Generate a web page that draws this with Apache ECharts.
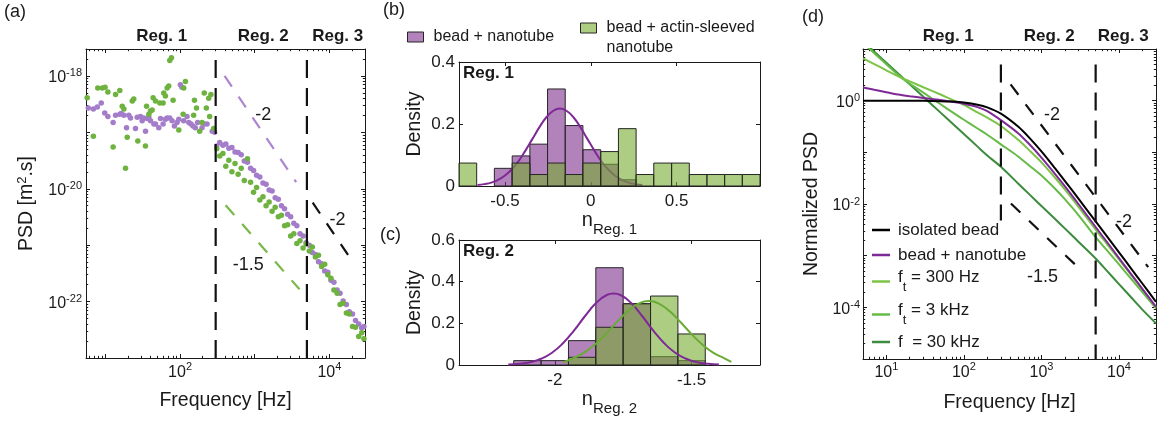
<!DOCTYPE html>
<html>
<head>
<meta charset="utf-8">
<title>PSD of bead + nanotube</title>
<script src="https://cdn.jsdelivr.net/npm/echarts@6.0.0/dist/echarts.min.js"></script>
<style>
html,body{margin:0;padding:0;background:#ffffff;}
#chart{width:1159px;height:422px;}
</style>
</head>
<body>
<div id="chart"></div>
<script>
// ================= DATA =================
// Panel (a): measured PSD [m^2.s] vs frequency [Hz]
const freqNanotubeReg1 = [5.9, 6.9, 7.8, 8.8, 9.8, 10.8, 12.7, 13.7, 15.6, 16.3, 17.7, 19.2, 20.6, 21.7, 25.3, 26.7, 29.5, 31.1, 32.7, 34.5, 36.3, 38.2, 40.2, 44.6, 46.9, 51.9, 54.7, 59.3, 63.7, 67.1, 72.8, 78.2, 84.1, 91.2, 96.1, 101, 106, 112, 124, 131, 140, 149, 160, 172, 197, 211, 230, 270, 290];
const psdNanotubeReg1 = [2.7e-19, 2.6e-19, 2.8e-19, 3.3e-19, 2.2e-19, 1.9e-19, 1.5e-19, 2.0e-19, 2.1e-19, 2.15e-19, 2.0e-19, 1.2e-19, 2.0e-19, 1.8e-19, 1.17e-19, 1.85e-19, 1.9e-19, 1.6e-19, 1.8e-19, 1.05e-19, 1.75e-19, 1.85e-19, 1.6e-19, 1.4e-19, 1.4e-19, 1.2e-19, 1.75e-19, 1.4e-19, 1.7e-19, 1.8e-19, 1.8e-19, 1.6e-19, 1.3e-19, 1.5e-19, 1.7e-19, 7.0e-19, 6.3e-19, 1.6e-19, 1.9e-19, 1.5e-19, 1.4e-19, 1.3e-19, 1.2e-19, 1.5e-19, 1.2e-19, 1.4e-19, 1.4e-19, 1.05e-19, 1.0e-19];
const freqActinReg1 = [5.7, 6.9, 7.9, 9.1, 9.9, 10.8, 12.7, 13.7, 15.6, 16.8, 17.7, 18.6, 19.6, 22.9, 24.0, 27.2, 34.4, 35.6, 38.2, 40.2, 42.3, 43.6, 46.9, 53.6, 59.3, 60.5, 63.7, 67.1, 70.6, 72.8, 76.7, 80.7, 96.2, 110, 112, 118, 152, 156, 166, 183, 197, 211, 225, 242, 249, 259, 282];
const psdActinReg1 = [4.1e-19, 8.5e-20, 6.1e-19, 6.1e-19, 6.3e-19, 5.2e-19, 5.5e-20, 4.7e-19, 5.5e-19, 2.9e-19, 2.6e-19, 2.3e-20, 8.2e-20, 3.6e-19, 3.9e-19, 7.0e-20, 5.7e-20, 2.9e-19, 2.1e-19, 2.4e-19, 2.5e-19, 4.1e-19, 3.6e-19, 3.3e-19, 3.3e-19, 5.0e-19, 4.4e-19, 6.1e-19, 6.6e-19, 1.87e-18, 2.1e-18, 3.7e-19, 1.1e-19, 2.1e-19, 6.1e-19, 8.0e-19, 2.0e-19, 3.7e-19, 2.7e-19, 1.05e-19, 1.5e-19, 5.0e-19, 2.7e-19, 4.0e-19, 1.9e-19, 4.7e-19, 1.17e-19];
const freqReg23 = [310, 340, 375, 410, 450, 495, 545, 600, 660, 725, 800, 880, 965, 1060, 1170, 1290, 1420, 1560, 1710, 1880, 2070, 2280, 2510, 2760, 3030, 3340, 3670, 4040, 4440, 4890, 5380, 5910, 6500, 7150, 7870, 8660, 9520, 10500, 11500, 12700, 13900, 15300, 16900, 18500, 20400, 22400, 24700, 27100, 29000];
const psdNanotubeReg23 = [5.75e-20, 6.6e-20, 5.9e-20, 6.2e-20, 5.2e-20, 5.4e-20, 4.5e-20, 4.4e-20, 4.0e-20, 3.1e-20, 2.95e-20, 2.3e-20, 2.1e-20, 1.74e-20, 1.62e-20, 1.26e-20, 1.2e-20, 9.5e-21, 9.1e-21, 6.9e-21, 6.5e-21, 5.0e-21, 4.4e-21, 3.55e-21, 3.2e-21, 2.45e-21, 2.2e-21, 1.6e-21, 1.45e-21, 1.1e-21, 1.0e-21, 7.4e-22, 6.8e-22, 5.1e-22, 4.7e-22, 3.5e-22, 3.3e-22, 2.4e-22, 2.2e-22, 1.6e-22, 1.4e-22, 1.02e-22, 8.9e-23, 6.6e-23, 6.0e-23, 4.6e-23, 4.0e-23, 3.4e-23, 3.6e-23];
const psdActinReg23 = [5.1e-20, 3.8e-20, 4.2e-20, 2.5e-20, 3.2e-20, 2.0e-20, 2.8e-20, 1.8e-20, 2.3e-20, 1.4e-20, 3.4e-20, 1.3e-20, 8.7e-21, 1.05e-20, 6.3e-21, 7.2e-21, 5.0e-21, 5.8e-21, 4.0e-21, 4.7e-21, 3.2e-21, 3.4e-21, 2.2e-21, 2.3e-21, 1.45e-21, 1.6e-21, 1.07e-21, 1.2e-21, 8.9e-22, 1.05e-21, 7.9e-22, 9.3e-22, 6.2e-22, 6.6e-22, 4.2e-22, 4.6e-22, 3.0e-22, 2.6e-22, 1.6e-22, 1.4e-22, 8.9e-23, 9.3e-23, 6.3e-23, 6.0e-23, 3.6e-23, 3.5e-23, 2.4e-23, 2.8e-23, 2.2e-23];
// region boundaries [Hz] and slope guides ([Hz, PSD] end points)
const regionBoundsHz = [300, 5000];
const guideSlope2Purple = [[395, 1.0e-18], [3590, 1.31e-20]];
const guideSlope15Green = [[408, 5.1e-21], [3980, 1.65e-22]];
const guideSlope2Black = [[5980, 5.65e-21], [21600, 4.6e-22]];

// Panel (b): exponent histogram, region 1
const binEdgesReg1 = [-0.768, -0.665, -0.562, -0.458, -0.355, -0.252, -0.149, -0.046, 0.058, 0.161, 0.264, 0.367, 0.471, 0.574, 0.677, 0.780, 0.883, 0.986];
const densNanotubeReg1 = [0, 0, 0.057, 0.097, 0.135, 0.313, 0.195, 0.117, 0.070, 0.020, 0, 0, 0, 0, 0, 0, 0];
const densActinReg1 = [0.074, 0, 0, 0.074, 0.037, 0.074, 0.037, 0.074, 0.111, 0.185, 0.037, 0.074, 0.074, 0.037, 0.037, 0.037, 0.037];
const fitXNanotubeReg1 = [-0.66, -0.62, -0.58, -0.54, -0.50, -0.46, -0.42, -0.38, -0.34, -0.30, -0.26, -0.22, -0.18, -0.14, -0.10, -0.06, -0.02, 0.02, 0.06, 0.10, 0.14, 0.18, 0.22, 0.26, 0.30];
const fitNanotubeReg1 = [0.003, 0.006, 0.011, 0.020, 0.034, 0.054, 0.081, 0.115, 0.152, 0.189, 0.221, 0.242, 0.250, 0.242, 0.221, 0.189, 0.152, 0.115, 0.081, 0.054, 0.034, 0.020, 0.011, 0.006, 0.003];

// Panel (c): exponent histogram, region 2
const binEdgesReg2 = [-2.15, -2.05, -1.95, -1.85, -1.75, -1.65, -1.55, -1.45];
const densNanotubeReg2 = [0.021, 0.021, 0.117, 0.467, 0.294, 0.040, 0.021];
const densActinReg2 = [0, 0, 0.037, 0.181, 0.294, 0.331, 0.149];
const fitXNanotubeReg2 = [-2.17, -2.13, -2.09, -2.05, -2.01, -1.97, -1.93, -1.89, -1.85, -1.81, -1.785, -1.76, -1.72, -1.68, -1.64, -1.60, -1.56, -1.52, -1.48, -1.44, -1.40];
const fitNanotubeReg2 = [0.002, 0.0055, 0.0136, 0.030, 0.059, 0.1045, 0.165, 0.234, 0.296, 0.336, 0.343, 0.336, 0.296, 0.234, 0.165, 0.1045, 0.059, 0.030, 0.0136, 0.0055, 0.002];
const fitXActinReg2 = [-1.97, -1.93, -1.89, -1.85, -1.81, -1.77, -1.73, -1.69, -1.657, -1.62, -1.58, -1.54, -1.50, -1.46, -1.42, -1.38, -1.355];
const fitActinReg2 = [0.012, 0.034, 0.062, 0.102, 0.154, 0.210, 0.262, 0.297, 0.307, 0.295, 0.258, 0.205, 0.148, 0.097, 0.058, 0.032, 0.015];

// Panel (d): normalized model PSD
const modelFreq = [5, 7, 10, 15, 20, 30, 50, 70, 100, 150, 200, 300, 500, 700, 1000, 1500, 2000, 3000, 5000, 7000, 10000, 15000, 20000, 30000];
const psdIsolatedBead = [1.0, 1.0, 0.999, 0.998, 0.997, 0.992, 0.979, 0.959, 0.920, 0.837, 0.743, 0.562, 0.316, 0.191, 0.104, 0.0488, 0.0281, 0.0127, 0.0046, 0.00236, 0.00116, 0.000514, 0.000289, 0.000128];
const psdBeadNanotube = [1.80, 1.62, 1.46, 1.30, 1.22, 1.13, 1.03, 0.95, 0.87, 0.75, 0.63, 0.42, 0.235, 0.143, 0.079, 0.038, 0.0222, 0.0100, 0.00359, 0.00184, 0.0009, 0.000402, 0.000228, 0.000102];
const psdFt300 = [6.6, 5.1, 3.87, 2.85, 2.37, 1.82, 1.315, 1.05, 0.83, 0.594, 0.468, 0.324, 0.175, 0.109, 0.0641, 0.0322, 0.0191, 0.00883, 0.0032, 0.00168, 0.000847, 0.000387, 0.000222, 0.000102];
const psdFt3k = [13.1, 8.28, 5.08, 2.92, 2.14, 1.43, 0.851, 0.608, 0.427, 0.289, 0.219, 0.143, 0.0832, 0.055, 0.0355, 0.0197, 0.01245, 0.00612, 0.00229, 0.00127, 0.000676, 0.000329, 0.000197, 0.0000955];
const psdF30k = [14.1, 8.87, 5.42, 3.10, 2.08, 1.19, 0.587, 0.37, 0.226, 0.129, 0.0869, 0.0525, 0.025, 0.01535, 0.00914, 0.00513, 0.00337, 0.00186, 0.00088, 0.000507, 0.000282, 0.000145, 0.0000904, 0.000049];
const guideDVert300 = [[300, 5.0], [300, 0.0048]];
const guideDVert5000 = [[5000, 5.0], [5000, 1e-5]];
const guideDSlope2 = [[400, 2.07], [23800, 6.0e-4]];
const guideDSlope15 = [[404, 0.0102], [3430, 4.84e-4]];

// tick labels (decade exponents shown)
const aXLabelExp = [2, 4];
const aYLabelExp = [-22, -20, -18];
const dXLabelExp = [1, 2, 3, 4];
const dYLabelExp = [-4, -2, 0];

// ================= STYLE / BUILD =================
const L = Math.log10;
const INK = '#1a1a1a';
const FONT = '"Liberation Sans", Arial, Helvetica, sans-serif';
const C_PT_PURPLE = '#a47dca';
const C_PT_GREEN = '#6eb23f';
const C_HIST_PURPLE = 'rgba(126,47,142,0.6)';
const C_HIST_GREEN = 'rgba(119,172,48,0.6)';
const C_FIT_PURPLE = '#7e2a96';
const C_FIT_GREEN = '#6aab36';

function minorLogTicks(lo, hi) {
  const out = [];
  for (let n = Math.floor(lo); n <= Math.ceil(hi); n++) {
    for (let k = 2; k <= 9; k++) {
      const v = n + Math.log10(k);
      if (v > lo + 1e-9 && v < hi - 1e-9) out.push(+v.toFixed(6));
    }
  }
  return out;
}
function majorLogTicks(lo, hi) {
  const out = [];
  for (let n = Math.ceil(lo); n <= Math.floor(hi); n++) out.push(n);
  return out;
}
const supX = {
  b: {fontSize: 16, lineHeight: 16, padding: [7, 0, 0, 0], color: INK, fontFamily: FONT},
  e: {fontSize: 11, lineHeight: 12, verticalAlign: 'top', color: INK, fontFamily: FONT}
};
const supY = {
  b: {fontSize: 16, lineHeight: 16, padding: [4, 0, 0, 0], color: INK, fontFamily: FONT},
  e: {fontSize: 11, lineHeight: 12, verticalAlign: 'top', color: INK, fontFamily: FONT}
};
function powFmt(allowed) {
  return function (v) {
    const r = Math.round(v);
    return (Math.abs(v - r) < 1e-6 && allowed.indexOf(r) >= 0) ? '{b|10}{e|' + r + '}' : '';
  };
}
// subscript name style: both tokens have the same box height (30) so only padding positions them
const subNameRich = {
  n: {fontSize: 20, lineHeight: 20, padding: [0, 0, 10, 0], color: INK, fontFamily: FONT},
  s: {fontSize: 15, lineHeight: 16, padding: [11, 0, 3, 0], color: INK, fontFamily: FONT}
};

function ax(gridIndex, position, min, max, o) {
  o = o || {};
  const a = {
    type: 'value', gridIndex: gridIndex, position: position, min: min, max: max,
    axisLine: {show: o.line !== false, onZero: false, lineStyle: {color: INK, width: 1}},
    axisTick: {show: true, inside: true, length: o.tickLen || 4, lineStyle: {color: INK, width: 1}},
    axisLabel: {show: false},
    splitLine: {show: false},
    silent: true
  };
  if (o.interval != null) a.interval = o.interval;
  if (o.ticks) a.axisTick.customValues = o.ticks;
  if (o.labels) a.axisLabel = Object.assign({show: true, color: INK, fontFamily: FONT, fontSize: 17}, o.labels);
  if (o.name) {
    a.name = o.name; a.nameLocation = 'middle'; a.nameGap = o.nameGap;
    if (o.nameRotate != null) a.nameRotate = o.nameRotate;
    a.nameTextStyle = Object.assign({color: INK, fontFamily: FONT, fontSize: 19.5, lineHeight: 22}, o.nameStyle || {});
  }
  return a;
}

const aX = [L(5.5), L(30000)], aY = [-23, L(3e-18)];
const dX = [L(5), L(30000)], dY = [-5, 1];
const bX = [-0.768, 0.986], cX = [-2.35, -1.25];

const xAxes = [
  // panel a (grid 0): 0..3
  ax(0, 'bottom', aX[0], aX[1], {ticks: majorLogTicks(aX[0], aX[1]),
    labels: {customValues: aXLabelExp, formatter: powFmt(aXLabelExp), rich: supX, margin: 3},
    name: 'Frequency [Hz]', nameGap: 32}),
  ax(0, 'top', aX[0], aX[1], {ticks: majorLogTicks(aX[0], aX[1])}),
  ax(0, 'bottom', aX[0], aX[1], {ticks: minorLogTicks(aX[0], aX[1]), tickLen: 2.2, line: false}),
  ax(0, 'top', aX[0], aX[1], {ticks: minorLogTicks(aX[0], aX[1]), tickLen: 2.2, line: false}),
  // panel b (grid 1): 4..5
  ax(1, 'bottom', bX[0], bX[1], {ticks: [-0.5, 0, 0.5], labels: {customValues: [-0.5, 0, 0.5], margin: 7},
    name: '{n|n}{s|Reg. 1}', nameGap: 15, nameStyle: {lineHeight: 30, rich: subNameRich}}),
  ax(1, 'top', bX[0], bX[1], {ticks: [-0.5, 0, 0.5]}),
  // panel c (grid 2): 6..7
  ax(2, 'bottom', cX[0], cX[1], {ticks: [-2, -1.5], labels: {customValues: [-2, -1.5], margin: 7},
    name: '{n|n}{s|Reg. 2}', nameGap: 15, nameStyle: {lineHeight: 30, rich: subNameRich}}),
  ax(2, 'top', cX[0], cX[1], {ticks: [-2, -1.5]}),
  // panel d (grid 3): 8..11
  ax(3, 'bottom', dX[0], dX[1], {ticks: majorLogTicks(dX[0], dX[1]),
    labels: {customValues: dXLabelExp, formatter: powFmt(dXLabelExp), rich: supX, margin: 2},
    name: 'Frequency [Hz]', nameGap: 33}),
  ax(3, 'top', dX[0], dX[1], {ticks: majorLogTicks(dX[0], dX[1])}),
  ax(3, 'bottom', dX[0], dX[1], {ticks: minorLogTicks(dX[0], dX[1]), tickLen: 2.2, line: false}),
  ax(3, 'top', dX[0], dX[1], {ticks: minorLogTicks(dX[0], dX[1]), tickLen: 2.2, line: false})
];

const yAxes = [
  ax(0, 'left', aY[0], aY[1], {ticks: majorLogTicks(aY[0], aY[1]),
    labels: {customValues: aYLabelExp, formatter: powFmt(aYLabelExp), rich: supY, margin: 4},
    name: '{t|PSD [m}{s|2}{t|.s]}', nameGap: 48, nameRotate: 90,
    nameStyle: {rich: {t: {fontSize: 19.5, lineHeight: 22, color: INK, fontFamily: FONT},
                       s: {fontSize: 13, lineHeight: 13, verticalAlign: 'top', color: INK, fontFamily: FONT}}}}),
  ax(0, 'right', aY[0], aY[1], {ticks: majorLogTicks(aY[0], aY[1])}),
  ax(0, 'left', aY[0], aY[1], {ticks: minorLogTicks(aY[0], aY[1]), tickLen: 2.2, line: false}),
  ax(0, 'right', aY[0], aY[1], {ticks: minorLogTicks(aY[0], aY[1]), tickLen: 2.2, line: false}),
  ax(1, 'left', 0, 0.4, {interval: 0.2, labels: {margin: 4}, name: 'Density', nameGap: 33, nameRotate: 90}),
  ax(1, 'right', 0, 0.4, {interval: 0.2}),
  ax(2, 'left', 0, 0.6, {interval: 0.2, labels: {margin: 4}, name: 'Density', nameGap: 33, nameRotate: 90}),
  ax(2, 'right', 0, 0.6, {interval: 0.2}),
  ax(3, 'left', dY[0], dY[1], {ticks: majorLogTicks(dY[0], dY[1]),
    labels: {customValues: dYLabelExp, formatter: powFmt(dYLabelExp), rich: supY, margin: 3},
    name: 'Normalized PSD', nameGap: 40, nameRotate: 90}),
  ax(3, 'right', dY[0], dY[1], {ticks: majorLogTicks(dY[0], dY[1])}),
  ax(3, 'left', dY[0], dY[1], {ticks: minorLogTicks(dY[0], dY[1]), tickLen: 2.2, line: false}),
  ax(3, 'right', dY[0], dY[1], {ticks: minorLogTicks(dY[0], dY[1]), tickLen: 2.2, line: false})
];

function logPairs(xs, ys) { return xs.map(function (x, i) { return [L(x), L(ys[i])]; }); }
function linPairs(xs, ys) { return xs.map(function (x, i) { return [x, ys[i]]; }); }

function scatter(name, data, color, z) {
  return {type: 'scatter', name: name, xAxisIndex: 0, yAxisIndex: 0, data: data,
          symbol: 'circle', symbolSize: 5.5, itemStyle: {color: color, opacity: 1}, z: z, silent: true};
}
function lineS(name, data, axisIdx, color, width, dash, z, smooth) {
  return {type: 'line', name: name, xAxisIndex: axisIdx, yAxisIndex: axisIdx, data: data,
          showSymbol: false, symbol: 'none', smooth: smooth || false, clip: true,
          color: color, itemStyle: {color: color},
          lineStyle: {color: color, width: width, type: dash || 'solid', cap: 'butt'}, z: z, silent: true};
}
function histSeries(name, edges, dens, axisIdx, fill, z) {
  return {
    type: 'custom', name: name, xAxisIndex: axisIdx, yAxisIndex: axisIdx, z: z,
    itemStyle: {color: fill}, color: fill,
    encode: {x: [0, 1], y: 2},
    data: dens.map(function (h, i) { return [edges[i], edges[i + 1], h]; }),
    renderItem: function (params, api) {
      const h = api.value(2);
      if (!(h > 0)) return null;
      const tl = api.coord([api.value(0), h]);
      const br = api.coord([api.value(1), 0]);
      return {type: 'rect', shape: {x: tl[0], y: tl[1], width: br[0] - tl[0], height: br[1] - tl[1]},
              style: {fill: fill, stroke: '#262626', lineWidth: 1}};
    },
    silent: true
  };
}

const VDASH = [18, 10], DDASH = [13, 12];
const series = [
  // ---- panel a ----
  scatter('a: bead + nanotube', logPairs(freqNanotubeReg1, psdNanotubeReg1).concat(logPairs(freqReg23, psdNanotubeReg23)), C_PT_PURPLE, 3),
  scatter('a: bead + actin-sleeved nanotube', logPairs(freqActinReg1, psdActinReg1).concat(logPairs(freqReg23, psdActinReg23)), C_PT_GREEN, 4),
  lineS('a: Reg. 1/2 boundary', [[L(regionBoundsHz[0]), aY[0]], [L(regionBoundsHz[0]), aY[1]]], 0, '#111', 2.2, VDASH, 6),
  lineS('a: Reg. 2/3 boundary', [[L(regionBoundsHz[1]), aY[0]], [L(regionBoundsHz[1]), aY[1]]], 0, '#111', 2.2, VDASH, 6),
  lineS('a: slope -2 (nanotube)', logPairs(guideSlope2Purple.map(p => p[0]), guideSlope2Purple.map(p => p[1])), 0, '#ad86cf', 2.2, DDASH, 6),
  lineS('a: slope -1.5 (actin)', logPairs(guideSlope15Green.map(p => p[0]), guideSlope15Green.map(p => p[1])), 0, '#7ab84a', 2.2, DDASH, 6),
  lineS('a: slope -2 (Reg. 3)', logPairs(guideSlope2Black.map(p => p[0]), guideSlope2Black.map(p => p[1])), 0, '#111', 2.2, DDASH, 6),
  // ---- panel b ----
  histSeries('b: bead + nanotube', binEdgesReg1, densNanotubeReg1, 4, C_HIST_PURPLE, 2),
  lineS('b: fit nanotube', linPairs(fitXNanotubeReg1, fitNanotubeReg1), 4, C_FIT_PURPLE, 2, 'solid', 3, true),
  histSeries('b: bead + actin-sleeved nanotube', binEdgesReg1, densActinReg1, 4, C_HIST_GREEN, 4),
  // ---- panel c ----
  histSeries('c: bead + nanotube', binEdgesReg2, densNanotubeReg2, 6, C_HIST_PURPLE, 2),
  histSeries('c: bead + actin-sleeved nanotube', binEdgesReg2, densActinReg2, 6, C_HIST_GREEN, 3),
  lineS('c: fit nanotube', linPairs(fitXNanotubeReg2, fitNanotubeReg2), 6, C_FIT_PURPLE, 2, 'solid', 4, true),
  lineS('c: fit actin', linPairs(fitXActinReg2, fitActinReg2), 6, C_FIT_GREEN, 2, 'solid', 5, true),
  // ---- panel d ----
  lineS('d: f = 30 kHz', logPairs(modelFreq, psdF30k), 8, '#3d8b3d', 2, 'solid', 3, 0.3),
  lineS('d: ft = 3 kHz', logPairs(modelFreq, psdFt3k), 8, '#66bb46', 2, 'solid', 3, 0.3),
  lineS('d: ft = 300 Hz', logPairs(modelFreq, psdFt300), 8, '#7cc447', 2, 'solid', 3, 0.3),
  lineS('d: bead + nanotube', logPairs(modelFreq, psdBeadNanotube), 8, '#7e2a96', 2, 'solid', 4, 0.3),
  lineS('d: isolated bead', logPairs(modelFreq, psdIsolatedBead), 8, '#000000', 2, 'solid', 5, 0.3),
  lineS('d: Reg. 1/2 boundary', logPairs(guideDVert300.map(p => p[0]), guideDVert300.map(p => p[1])), 8, '#111', 2.2, VDASH, 6),
  lineS('d: Reg. 2/3 boundary', logPairs(guideDVert5000.map(p => p[0]), guideDVert5000.map(p => p[1])), 8, '#111', 2.2, VDASH, 6),
  lineS('d: slope -2', logPairs(guideDSlope2.map(p => p[0]), guideDSlope2.map(p => p[1])), 8, '#111', 2.2, DDASH, 6),
  lineS('d: slope -1.5', logPairs(guideDSlope15.map(p => p[0]), guideDSlope15.map(p => p[1])), 8, '#111', 2.2, DDASH, 6)
];

const legTxt = {color: INK, fontFamily: FONT, fontSize: 16, lineHeight: 18, padding: [0, 0, 0, 5]};
const dLegTxt = {color: INK, fontFamily: FONT, fontSize: 17, lineHeight: 20, padding: [0, 0, 0, 3],
  rich: {
    m: {fontSize: 17, lineHeight: 20, padding: [2, 0, 10, 0], color: INK, fontFamily: FONT},
    sub: {fontSize: 13, lineHeight: 14, padding: [15, 0, 3, 0], color: INK, fontFamily: FONT}
  }};
function dLeg(name, top, label) {
  return {show: true, orient: 'horizontal', left: 872, top: top, padding: 0, itemGap: 0, itemWidth: 18, itemHeight: 2.5,
          icon: 'rect', selectedMode: false, data: [name], formatter: function () { return label; }, textStyle: dLegTxt};
}
const legends = [
  {show: true, left: 407, top: 28, padding: 0, itemWidth: 16, itemHeight: 10, icon: 'rect', selectedMode: false,
   itemStyle: {borderColor: '#262626', borderWidth: 1},
   data: ['b: bead + nanotube'], formatter: function () { return 'bead + nanotube'; }, textStyle: legTxt},
  {show: true, left: 580, top: -2, padding: 0, itemWidth: 16, itemHeight: 10, icon: 'rect', selectedMode: false,
   itemStyle: {borderColor: '#262626', borderWidth: 1},
   data: ['b: bead + actin-sleeved nanotube'], formatter: function () { return '\nbead + actin-sleeved\nnanotube'; },
   textStyle: Object.assign({}, legTxt, {lineHeight: 20})},
  dLeg('d: isolated bead', 220, 'isolated bead'),
  dLeg('d: bead + nanotube', 245, 'bead + nanotube'),
  dLeg('d: ft = 300 Hz', 266, '{m|f}{sub|t}{m| = 300 Hz}'),
  dLeg('d: ft = 3 kHz', 299, '{m|f}{sub|t}{m| = 3 kHz}'),
  dLeg('d: f = 30 kHz', 332, 'f  = 30 kHz')
];

function txt(text, x, y, size, weight, align) {
  return {type: 'text', x: x, y: y, silent: true, z: 100,
          style: {text: text, fill: INK, font: (weight || 'normal') + ' ' + size + 'px ' + FONT,
                  textAlign: align || 'center', align: align || 'center',
                  textVerticalAlign: 'middle', verticalAlign: 'middle'}};
}
const graphics = [
  txt('(a)', 4, 12, 18, 'normal', 'left'),
  txt('(b)', 383, 10, 18, 'normal', 'left'),
  txt('(c)', 380, 235, 18, 'normal', 'left'),
  txt('(d)', 802, 17, 18, 'normal', 'left'),
  txt('Reg. 1', 161.7, 36, 17, 'bold'),
  txt('Reg. 2', 263.3, 36, 17, 'bold'),
  txt('Reg. 3', 337.7, 36, 17, 'bold'),
  txt('Reg. 1', 948.3, 36, 17, 'bold'),
  txt('Reg. 2', 1049.3, 36, 17, 'bold'),
  txt('Reg. 3', 1123.3, 36, 17, 'bold'),
  txt('Reg. 1', 463, 73, 17, 'bold', 'left'),
  txt('Reg. 2', 463, 251, 17, 'bold', 'left'),
  txt('-2', 263.3, 115, 18),
  txt('-1.5', 248.3, 265, 18),
  txt('-2', 337.5, 220, 18),
  txt('-2', 1052, 115, 18),
  txt('-2', 1124, 221.7, 18),
  txt('-1.5', 1042.5, 276.7, 18)
];

const chart = echarts.init(document.getElementById('chart'), null, {renderer: 'canvas'});
chart.setOption({
  animation: false,
  backgroundColor: '#ffffff',
  textStyle: {fontFamily: FONT, color: INK},
  grid: [
    {left: 86, top: 49, width: 279, height: 309, containLabel: false, outerBoundsMode: 'none'},
    {left: 459, top: 62, width: 301, height: 124, containLabel: false, outerBoundsMode: 'none'},
    {left: 459, top: 240, width: 301, height: 125, containLabel: false, outerBoundsMode: 'none'},
    {left: 863, top: 49, width: 293, height: 310, containLabel: false, outerBoundsMode: 'none'}
  ],
  xAxis: xAxes,
  yAxis: yAxes,
  legend: legends,
  series: series,
  graphic: graphics
});
</script>
</body>
</html>
